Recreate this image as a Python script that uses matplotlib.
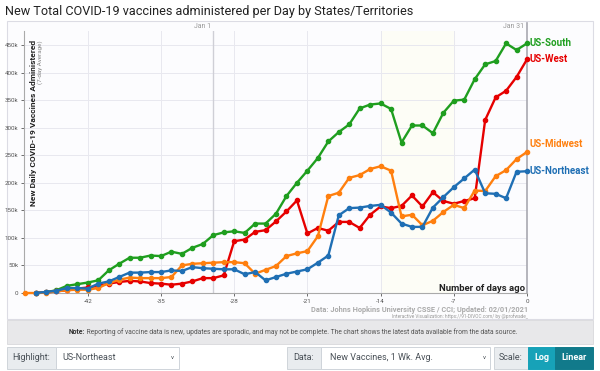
import matplotlib
matplotlib.use("Agg")
import matplotlib.pyplot as plt
import numpy as np
from matplotlib.patches import Rectangle

plt.rcParams['font.family'] = ['Roboto', 'DejaVu Sans']

days = list(range(-48, 1))
nan = float('nan')

us_south = [nan, 0, 1.5, 5, 13, 16, 19, 23, 41, 53, 64, 64, 68, 67, 75, 71, 82, 89,
            105, 110, 112, 109, 126, 126, 144, 176, 200, 222, 245, 275, 292, 306, 335,
            342, 344, 334, 273, 304, 304, 290, 327, 349, 351, 388, 415, 421, 453, 441, 453]
us_west = [nan, 0, 1, 3, 5, 8, 10, 13, 17, 20, 22, 21, 18, 17, 15, 17, 21, 27,
           27, 32, 94, 97, 111, 114, 130, 148, 168, 108, 118, 113, 129, 129, 118,
           142, 157, 154, 158, 177, 157, 183, 167, 162, 167, 172, 314, 355, 367, 392, 424]
us_midwest = [0, 0, 0.5, 3, 5, 6, 6, 9, 18, 24, 28, 27, 27, 27, 29, 50, 53, 54,
              55, 56, 56, 54, 35, 42, 49, 67, 72, 76, 103, 176, 182, 209, 214,
              225, 230, 222, 139, 142, 123, 131, 147, 160, 154, 186, 185, 212, 223, 243, 256]
us_northeast = [nan, 0, 2, 4, 9, 9, 8, 17, 21, 29, 37, 37, 38, 38, 41, 40, 47, 45,
                44, 43, 43, 34, 38, 23, 29, 35, 39, 43, 55, 68, 141, 154, 155,
                158, 160, 146, 126, 120, 120, 155, 174, 192, 208, 224, 181, 180, 172, 220, 221]

series_names = ['US-South', 'US-West', 'US-Midwest', 'US-Northeast']
series_vals = [us_south, us_west, us_midwest, us_northeast]
series_colors = ['#1f9e1f', '#e60000', '#ff7f0e', '#1f6fb4']
label_y = [453, 424, 256, 221]
label_offsets = [0, 0, 6, 0]

x_ticks = [-42, -35, -28, -21, -14, -7, 0]
y_ticks = [0, 50, 100, 150, 200, 250, 300, 350, 400, 450]
y_tick_labels = ['0', '50k', '100k', '150k', '200k', '250k', '300k', '350k', '400k', '450k']

W, H = 600, 371
fig = plt.figure(figsize=(W / 100, H / 100), dpi=100)
fig.patch.set_facecolor('white')

def fx(px):
    return px / W

def fy(py):
    return 1 - py / H

# outer frame
frame = fig.add_axes([0, 0, 1, 1], zorder=0)
frame.set_xlim(0, W)
frame.set_ylim(H, 0)
frame.axis('off')
frame.add_patch(Rectangle((7, 21), 586, 298, facecolor='#fcfcfe', edgecolor='#dcdce4', lw=0.8))
# note band
frame.add_patch(Rectangle((7, 320), 586, 24, facecolor='#e8e8ea', edgecolor='#d8d8dc', lw=0.6))
note_bold = frame.text(69, 332, 'Note:', ha='left', va='center', fontsize=4.9,
                       color='#333333', fontweight='bold')
frame.annotate(' Reporting of vaccine data is new, updates are sporadic, and may not be complete. '
               'The chart shows the latest data available from the data source.',
               xycoords=note_bold, xy=(1, 0.5), ha='left', va='center', fontsize=4.9, color='#555555')

# controls
def box(x, y, w, h, fc, ec='#cfd4da'):
    frame.add_patch(Rectangle((x, y), w, h, facecolor=fc, edgecolor=ec, lw=0.7))

box(7, 347, 49, 22, '#e9ecef')
frame.text(31.5, 358, 'Highlight:', ha='center', va='center', fontsize=6.5, color='#495057')
box(56, 347, 123, 22, 'white')
frame.text(62, 358, 'US-Northeast', ha='left', va='center', fontsize=6.5, color='#495057')
frame.text(172, 357.5, 'v', ha='center', va='center', fontsize=4.5, color='#495057')
box(287, 347, 34, 22, '#e9ecef')
frame.text(304, 358, 'Data:', ha='center', va='center', fontsize=6.5, color='#495057')
box(321, 347, 169, 22, 'white')
frame.text(330, 358, 'New Vaccines, 1 Wk. Avg.', ha='left', va='center', fontsize=6.5, color='#495057')
frame.text(484, 357.5, 'v', ha='center', va='center', fontsize=4.5, color='#495057')
box(494, 347, 34, 22, '#e9ecef')
frame.text(511, 358, 'Scale:', ha='center', va='center', fontsize=6.5, color='#495057')
box(528, 347, 27, 22, '#17a2b8', '#17a2b8')
frame.text(541.5, 358, 'Log', ha='center', va='center', fontsize=6.5, color='white', fontweight='bold')
box(555, 347, 38, 22, '#117a8b', '#117a8b')
frame.text(574, 358, 'Linear', ha='center', va='center', fontsize=6.5, color='white', fontweight='bold')

# title
fig.text(fx(5), fy(11), 'New Total COVID-19 vaccines administered per Day by States/Territories',
         ha='left', va='center', fontsize=9.1, color='#222222')

# main axes
left, right, top, bottom = 24, 527, 31, 293
ax = fig.add_axes([fx(left), fy(bottom), fx(right - left), (bottom - top) / H], zorder=2)
ax.set_facecolor('none')
x0 = -48.1
ax.set_xlim(x0, 0)
ax.set_ylim(0, (bottom - top) / 0.551)

ax.axvspan(-14, -7, color='#fdfdf6', zorder=0)
for t in x_ticks[:-1]:
    ax.axvline(t, color='#e8e8ef', lw=0.7, zorder=1)
for t in y_ticks[1:]:
    ax.axhline(t, color='#e8e8ef', lw=0.7, zorder=1)
ax.axvline(-30, color='#cfcfd6', lw=1.0, zorder=1)
ax.plot([0, 0], [0, 1.03], transform=ax.get_xaxis_transform(), color='#a8a8b0', lw=1.2,
        zorder=1, clip_on=False)
ax.text(-30.25, 1.005, 'Jan 1', transform=ax.get_xaxis_transform(), ha='right', va='bottom',
        fontsize=5, color='#999999')
ax.text(-0.25, 1.005, 'Jan 31', transform=ax.get_xaxis_transform(), ha='right', va='bottom',
        fontsize=5, color='#999999')

for name, vals, col in zip(series_names, series_vals, series_colors):
    z = 5 if name == 'US-Northeast' else 3
    ax.plot(days, vals, color=col, lw=1.7, marker='o', ms=3.0, zorder=z, clip_on=False)

for name, ly, col, off in zip(series_names, label_y, series_colors, label_offsets):
    ax.annotate(name, (0, ly), xytext=(2, off), textcoords='offset points', ha='left', va='center',
                fontsize=7, fontweight='bold', color=col, annotation_clip=False)

for sp in ['top', 'right']:
    ax.spines[sp].set_visible(False)
ax.spines['left'].set_color('#aaaaaa')
ax.spines['bottom'].set_color('#aaaaaa')
ax.spines['left'].set_linewidth(0.8)
ax.spines['bottom'].set_linewidth(0.8)
ax.set_xticks(x_ticks)
ax.set_xticklabels([str(t) for t in x_ticks])
ax.set_yticks(y_ticks)
ax.set_yticklabels(y_tick_labels)
ax.tick_params(axis='both', labelsize=4.5, colors='#555555', length=2.5, width=0.6, pad=1.5)

ax.text(0.018, 0.965, 'New Daily COVID-19 Vaccines Administered', transform=ax.transAxes,
        rotation=90, ha='center', va='top', fontsize=6.0, fontweight='bold', color='#222222')
ax.text(0.033, 0.965, '(7-day Average)', transform=ax.transAxes,
        rotation=90, ha='center', va='top', fontsize=4.5, color='#888888')
ax.text(-0.2, 8, 'Number of days ago', ha='right', va='center', fontsize=6.8,
        fontweight='bold', color='#222222', zorder=6)

fig.text(fx(528), fy(310), 'Data: Johns Hopkins University CSSE / CCI; Updated: 02/01/2021',
         ha='right', va='center', fontsize=5.3, color='#aaaaaa', fontweight='bold')
fig.text(fx(528), fy(316.5), 'Interactive Visualization: https://91-DIVOC.com/ by @profwade_',
         ha='right', va='center', fontsize=3.4, color='#999999')

fig.savefig('out.png', dpi=100)
